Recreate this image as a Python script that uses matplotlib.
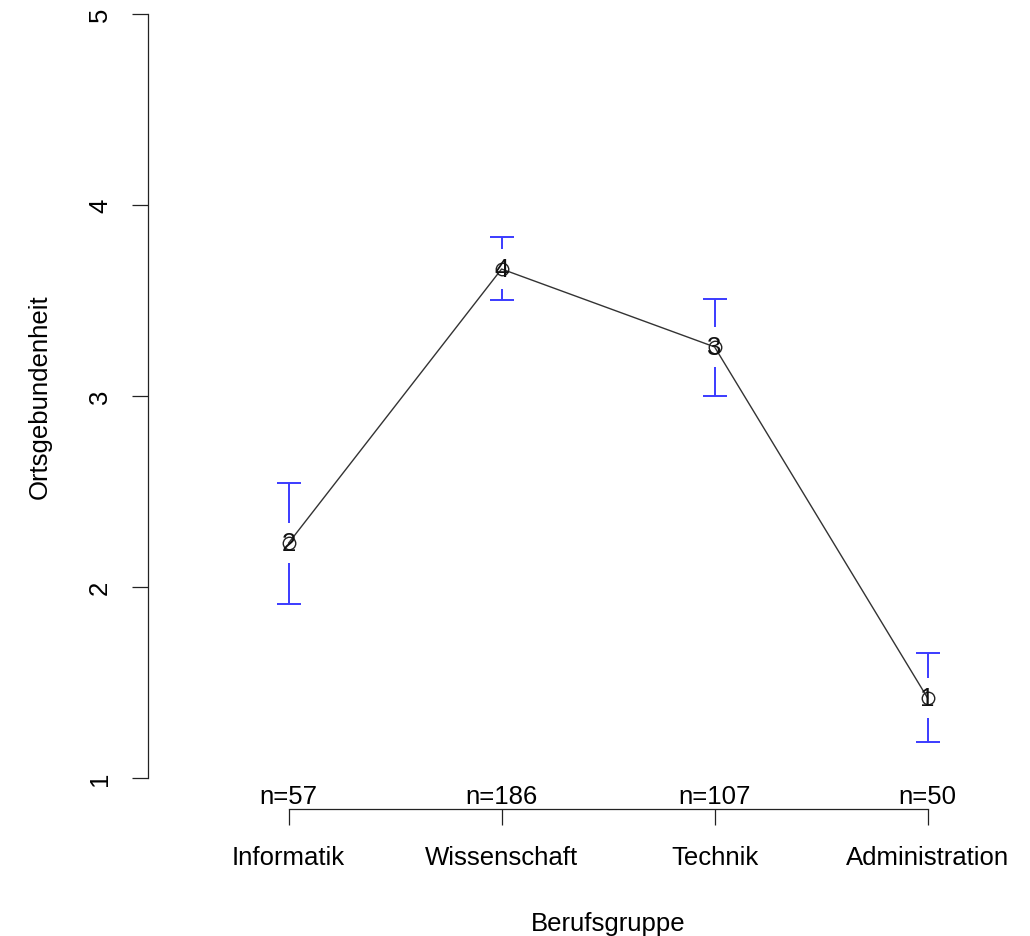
import matplotlib
matplotlib.use("Agg")
import matplotlib.pyplot as plt
import matplotlib.transforms as mtransforms

categories = ["Informatik", "Wissenschaft", "Technik", "Administration"]
n_counts = [57, 186, 107, 50]
means = [2.23, 3.665, 3.257, 1.419]
upper = [2.545, 3.832, 3.508, 1.654]
lower = [1.911, 3.503, 3.000, 1.188]
mean_labels = ["2", "4", "3", "1"]
yticks = [1, 2, 3, 4, 5]

plt.rcParams['font.family'] = ['Liberation Sans', 'DejaVu Sans']
FS = 18.5
W, H = 1030, 937
fig = plt.figure(figsize=(W / 100, H / 100), dpi=100)
left = 148 / W
bottom = (H - 809.6) / H
ax = fig.add_axes([left, bottom, 1 - left, 1 - bottom])
ax.set_xlim(0.34, 0.34 + 882 / 213)
ax.set_ylim(0.84, 1 + 779 / 191)

x = list(range(1, len(categories) + 1))

# connecting line
ax.plot(x, means, color='#333333', lw=1.0, zorder=2)

# error bars with gap around the mean
gap = 20 / 191
cap = 12 / 213
blue = '#3b3bff'
for xi, m, u, l in zip(x, means, upper, lower):
    ax.vlines(xi, m + gap, u, color=blue, lw=1.4, zorder=3)
    ax.vlines(xi, l, m - gap, color=blue, lw=1.4, zorder=3)
    ax.hlines([u, l], xi - cap, xi + cap, color=blue, lw=1.4, zorder=3)

# mean markers and labels
ax.plot(x, means, 'o', mfc='none', mec='#222222', ms=9, mew=1.0, zorder=4)
for xi, m, lab in zip(x, means, mean_labels):
    ax.text(xi, m, lab, ha='center', va='center', fontsize=FS, color='#111111', zorder=5)

# spines
for s in ['top', 'right']:
    ax.spines[s].set_visible(False)
ax.spines['left'].set_bounds(1, 5)
ax.spines['bottom'].set_bounds(1, 4)
for s in ['left', 'bottom']:
    ax.spines[s].set_linewidth(0.9)
    ax.spines[s].set_color('#222222')

ax.set_yticks(yticks)
ax.set_yticklabels([])
ax.tick_params(axis='y', length=11.5, width=0.9, color='#222222')
ytr = ax.get_yaxis_transform()
for yv in yticks:
    ax.text(-48 / 882, yv, str(yv), transform=ytr, rotation=90, ha='center',
            va='center', fontsize=FS)

ax.set_xticks(x)
ax.set_xticklabels([])
ax.tick_params(axis='x', length=11.5, width=0.9, color='#222222')
xtr = ax.get_xaxis_transform()
for xi, c, n in zip(x, categories, n_counts):
    ax.text(xi, -(858 - 809.6) / 809.6, c, transform=xtr, ha='center', va='center', fontsize=FS)
    ax.text(xi, (809.6 - 797) / 809.6, f"n={n}", transform=xtr, ha='center', va='center', fontsize=FS)

ax.text(2.5, -(924 - 809.6) / 809.6, "Berufsgruppe", transform=xtr, ha='center',
        va='center', fontsize=FS)
ax.text(-(148 - 40) / 882, 0.5 + 15.6 / 809.6 / 2, "Ortsgebundenheit", transform=ax.transAxes,
        rotation=90, ha='center', va='center', fontsize=FS)

fig.savefig("out.png", dpi=100)
